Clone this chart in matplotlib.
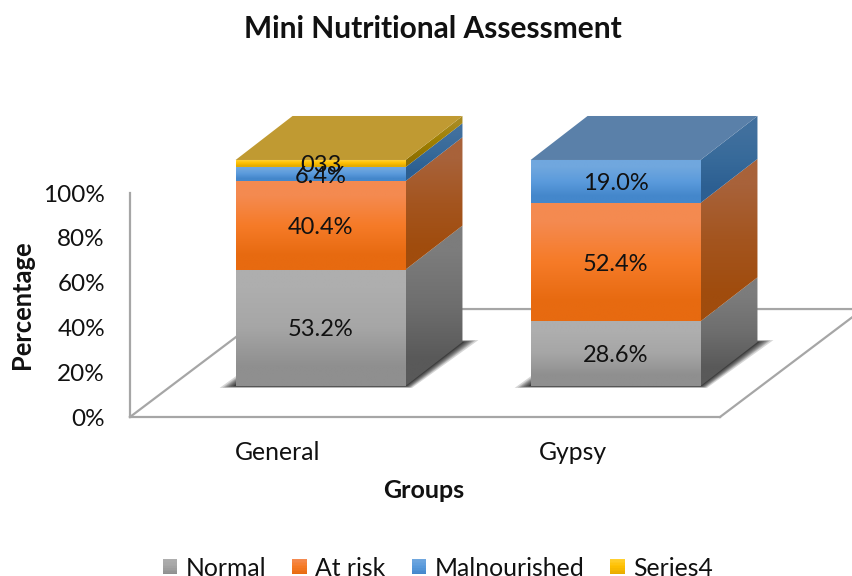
import numpy as np
import matplotlib
matplotlib.use("Agg")
import matplotlib.pyplot as plt
from matplotlib.colors import to_rgb
from matplotlib.legend_handler import HandlerBase
from matplotlib.patches import Polygon, Rectangle

# Data
groups = ["General", "Gypsy"]
series_names = ["Normal", "At risk", "Malnourished", "Series4"]
normal = [53.2, 28.6]
at_risk = [40.4, 52.4]
malnourished = [6.4, 19.0]
series4 = [3.3, 0.0]
labels_normal = ["53.2%", "28.6%"]
labels_at_risk = ["40.4%", "52.4%"]
labels_malnourished = ["6.4%", "19.0%"]
labels_series4 = ["033", ""]
y_ticks = [0, 20, 40, 60, 80, 100]

# Face colours, top to bottom of each segment
front_colors = [
    ["#aeaeae", "#a6a6a6", "#8f8f8f"],
    ["#f48a50", "#f67b28", "#e76a10"],
    ["#70a7de", "#5b9bdc", "#4487cb"],
    ["#ffd030", "#ffc000", "#e6ac00"],
]
side_colors = [
    ["#7c7c7c", "#6e6e6e", "#595959"],
    ["#a8623a", "#a4551f", "#a04c0d"],
    ["#41709e", "#376a9a", "#2c5f92"],
    ["#a88a20", "#a08000", "#8f7000"],
]
top_colors = ["#c09a32", "#5a80a9"]

plt.rcParams["font.family"] = ["Lato", "DejaVu Sans"]
line_color = "#a6a6a6"
text_color = "#111111"

fig = plt.figure(figsize=(8.52, 5.76), dpi=100)
ax = fig.add_axes([130 / 852, 1 - 417 / 576, 590 / 852, 224 / 576])
ax.patch.set_visible(False)

# Oblique projection of the 3D box, in axis units
bar_half = 0.288
bar_scale = 1.009
front_dx, front_dy = 0.146, 13.84
back_dx, back_dy = 0.339, 33.48
floor_dx, floor_dy = 0.485, 48.2


def gradient_face(corners, colors, zorder):
    poly = Polygon(corners, closed=True, facecolor="none", edgecolor="none",
                   transform=ax.transData, clip_on=False)
    ax.add_patch(poly)
    xs = [c[0] for c in corners]
    ys = [c[1] for c in corners]
    grad = np.array([to_rgb(c) for c in colors]).reshape(len(colors), 1, 3)
    im = ax.imshow(grad, extent=[min(xs), max(xs), min(ys), max(ys)], origin="upper",
                   aspect="auto", interpolation="bilinear", zorder=zorder)
    # the image must be allowed to run past the axes box
    im.set_clip_box(fig.bbox)
    im.set_clip_path(poly)


# Floor lines
ax.plot([-0.5, -0.5 + floor_dx, 1.5 + floor_dx, 1.5], [0, floor_dy, floor_dy, 0],
        color=line_color, lw=1.6, clip_on=False, zorder=1)

series_values = [normal, at_risk, malnourished, series4]
series_labels = [labels_normal, labels_at_risk, labels_malnourished, labels_series4]

for i in range(len(groups)):
    left = i - bar_half + front_dx
    right = i + bar_half + front_dx
    base = front_dy
    total = sum(v[i] for v in series_values)

    # Soft shadow around the foot of the bar
    for grow in [16, 13, 11, 9, 7, 5, 3, 2]:
        gx = grow / 295
        gy = grow / 2.24 * 0.12
        ax.add_patch(Polygon(
            [(left - gx, base - gy), (right + gx * 0.4, base - gy),
             (i + bar_half + back_dx + gx, back_dy + gy),
             (i - bar_half + back_dx - gx * 0.4, back_dy + gy)],
            closed=True, facecolor="black", edgecolor="none", alpha=0.16,
            clip_on=False, zorder=2))

    bottom = base
    for s, values in enumerate(series_values):
        h = values[i] / total * 100 * bar_scale
        if h == 0:
            continue
        top = bottom + h
        gradient_face([(left, bottom), (right, bottom), (right, top), (left, top)],
                      front_colors[s], 3)
        gradient_face([(right, bottom), (right + back_dx - front_dx, bottom + back_dy - front_dy),
                       (right + back_dx - front_dx, top + back_dy - front_dy), (right, top)],
                      side_colors[s], 3)
        ax.text(i + front_dx, (bottom + top) / 2, series_labels[s][i], ha="center",
                va="center_baseline", fontsize=17, color=text_color, zorder=6 - s * 0.1)
        bottom = top

    # Top face
    ax.add_patch(Polygon(
        [(left, bottom), (right, bottom),
         (right + back_dx - front_dx, bottom + back_dy - front_dy),
         (left + back_dx - front_dx, bottom + back_dy - front_dy)],
        closed=True, facecolor=top_colors[i], edgecolor="none", clip_on=False, zorder=3))

ax.set_xlim(-0.5, 1.5)
ax.set_ylim(0, 100)
ax.set_xticks(range(len(groups)))
ax.set_xticklabels(groups, fontsize=17.8, color=text_color)
ax.set_yticks(y_ticks)
ax.set_yticklabels([f"{t}%" for t in y_ticks], fontsize=17.5, color=text_color)
ax.tick_params(axis="x", length=0, pad=17.5)
ax.tick_params(axis="y", length=0, pad=18)

for side in ["top", "right"]:
    ax.spines[side].set_visible(False)
for side in ["left", "bottom"]:
    ax.spines[side].set_color(line_color)
    ax.spines[side].set_linewidth(1.6)

fig.text(433 / 852, 1 - 29 / 576, "Mini Nutritional Assessment", ha="center", va="center",
         fontsize=21.5, fontweight="bold", color=text_color)
fig.text(424 / 852, 1 - 491 / 576, "Groups", ha="center", va="center",
         fontsize=18, fontweight="bold", color=text_color)
fig.text(22 / 852, 1 - 305 / 576, "Percentage", ha="center", va="center", rotation=90,
         fontsize=18.4, fontweight="bold", color=text_color)


# Legend swatches keep the top-to-bottom shading of the bars
class GradientSwatch(HandlerBase):
    def __init__(self, colors):
        super().__init__()
        self.colors = colors

    def create_artists(self, legend, orig_handle, xdescent, ydescent, width, height,
                       fontsize, trans):
        c0, c1, c2 = [np.array(to_rgb(c)) for c in self.colors]
        n = 10
        strips = []
        for k in range(n):
            f = k / (n - 1) * 2
            col = c0 + (c1 - c0) * f if f < 1 else c1 + (c2 - c1) * (f - 1)
            strips.append(Rectangle((-xdescent, -ydescent + height * (n - 1 - k) / n),
                                    width, height / n + 0.2, facecolor=col,
                                    edgecolor="none", transform=trans))
        return strips


handles = [Rectangle((0, 0), 1, 1) for _ in series_names]
fig.legend(handles, series_names, loc="center", bbox_to_anchor=(438 / 852, 1 - 568 / 576),
           ncol=4, frameon=False, fontsize=17.8, labelcolor=text_color,
           handlelength=0.58, handleheight=0.58, handletextpad=0.35, columnspacing=1.05,
           handler_map={h: GradientSwatch(c) for h, c in zip(handles, front_colors)})

fig.savefig("out.png", dpi=100)
